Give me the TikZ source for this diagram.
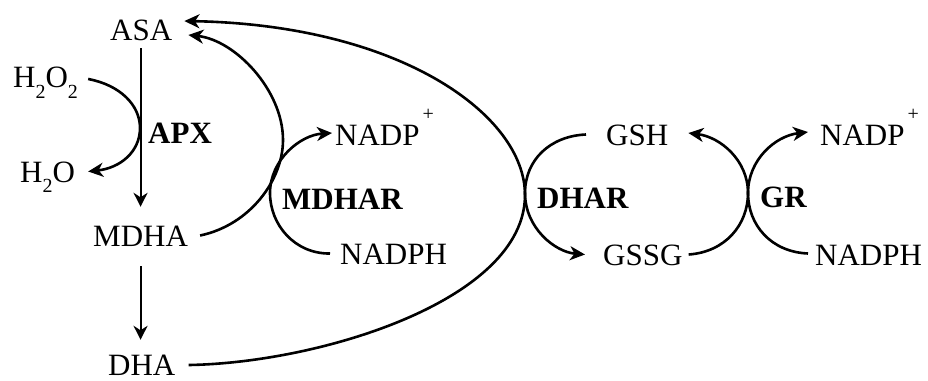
\documentclass[tikz,border=0pt]{standalone}
\usepackage{fontspec}
\setmainfont{Liberation Serif}
\usetikzlibrary{arrows.meta,calc}
\newcommand\subtwo[1]{\raisebox{-#1}{\fontsize{20}{20}\selectfont 2}}
\newcommand\plusup{\kern3pt\raisebox{25pt}{\fontsize{20}{20}\selectfont +}}
\begin{document}
\begin{tikzpicture}[x=1pt,y=-1pt,
  lbl/.style={inner sep=0pt, text height=21pt, text depth=0pt, anchor=base west, font=\fontsize{31}{31}\selectfont},
  enz/.style={lbl, font=\fontsize{31}{31}\selectfont\bfseries},
  crv/.style={line width=2.6pt, -{Stealth[length=15pt,width=14pt,inset=4.5pt]}},
  vrt/.style={line width=2pt, -{Stealth[length=14pt,width=14pt,inset=4.5pt]}}]
\useasboundingbox (0,0) rectangle (928,380);
\node[lbl] (asa) at (110,40) {ASA};
\node[lbl] (hoo) at (13,87) {H\subtwo{11pt}O\subtwo{11pt}};
\node[lbl] (ho) at (20,182) {H\subtwo{10pt}O};
\node[enz] (apx) at (148,143) {APX};
\node[lbl] (mdha) at (93,246) {MDHA};
\node[lbl] (dha) at (108,375) {DHA};
\node[lbl] (nadpA) at (335,145) {NADP\plusup};
\node[enz] (mdhar) at (282,209) {MDHAR};
\node[lbl] (nadphA) at (340,264) {NADPH};
\node[lbl] (gsh) at (606,145) {GSH};
\node[enz] (dhar) at (537,208) {DHAR};
\node[lbl] (gssg) at (603,265) {GSSG};
\node[enz] (gr) at (760,207) {GR};
\node[lbl] (nadpB) at (820,145) {NADP\plusup};
\node[lbl] (nadphB) at (815,265) {NADPH};
% APX
\draw[vrt] ($(mdha.north |- asa.south)+(0,8)$) -- ($(mdha.north)+(0,-18)$);
\draw[crv] ([xshift=10pt,yshift=-2.5pt]hoo.east) .. controls (120,85) and (140,105) .. (140,128) .. controls (140,152) and (120,168) .. ([xshift=13pt]ho.east);
% MDHA -> DHA
\draw[vrt] ($(mdha.south)+(0,20)$) -- ($(mdha.south |- dha.north)+(0,-14)$);
% MDHA -> ASA
\draw[crv] ([xshift=12pt]mdha.east) .. controls (250,225) and (283,180) .. (283,140) .. controls (283,90) and (235,40) .. ([xshift=16pt,yshift=-5.5pt]asa.east);
% DHA -> ASA
\draw[crv] ([xshift=13pt,yshift=-0.5pt]dha.east) .. controls (320,363) and (525,300) .. (525,195) .. controls (525,115) and (400,25) .. ([xshift=12pt,yshift=8.5pt]asa.east);
% MDHAR
\draw[crv] ([xshift=-10pt]nadphA.west) .. controls (295,254) and (270,225) .. (270,193) .. controls (270,160) and (300,135) .. ([xshift=-3pt,yshift=1.5pt]nadpA.west);
% DHAR
\draw[crv] ([xshift=-20pt]gsh.west) .. controls (550,136) and (525,160) .. (525,193) .. controls (525,228) and (555,252) .. ([xshift=-18pt]gssg.west);
% GR
\draw[crv] ([xshift=6pt]gssg.east) .. controls (725,252) and (748,225) .. (748,193) .. controls (748,160) and (720,137) .. ([xshift=20pt,yshift=1.5pt]gsh.east);
\draw[crv] ([xshift=-7pt,yshift=1pt]nadphB.west) .. controls (771,252) and (748,225) .. (748,193) .. controls (748,160) and (775,136) .. ([xshift=-12pt,yshift=2.5pt]nadpB.west);
\end{tikzpicture}
\end{document}
